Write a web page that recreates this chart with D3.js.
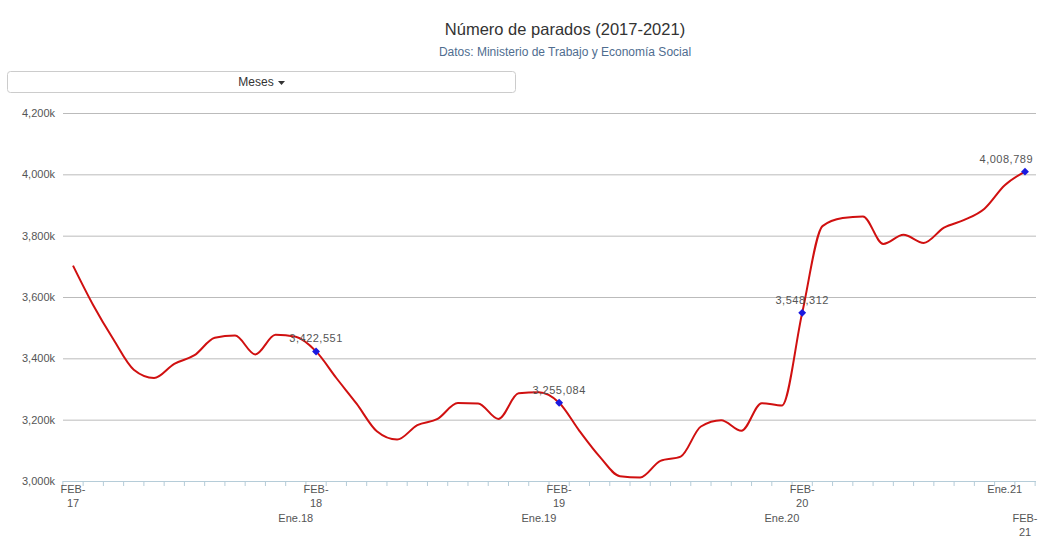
<!DOCTYPE html>
<html><head><meta charset="utf-8">
<script src="https://cdn.jsdelivr.net/npm/d3@7"></script>
<style>
body{margin:0;font-family:"Liberation Sans",Arial,sans-serif;background:#fff}
text{font-family:"Liberation Sans",Arial,sans-serif}
</style></head><body>
<script>
w = 1045;
h = 555;

// meses: mar-17 .. feb-21
months = ['Mar.17','Abr.17','May.17','Jun.17','Jul.17','Ago.17','Sep.17','Oct.17','Nov.17','Dic.17',
  'Ene.18','Feb.18','Mar.18','Abr.18','May.18','Jun.18','Jul.18','Ago.18','Sep.18','Oct.18','Nov.18','Dic.18',
  'Ene.19','Feb.19','Mar.19','Abr.19','May.19','Jun.19','Jul.19','Ago.19','Sep.19','Oct.19','Nov.19','Dic.19',
  'Ene.20','Feb.20','Mar.20','Abr.20','May.20','Jun.20','Jul.20','Ago.20','Sep.20','Oct.20','Nov.20','Dic.20',
  'Ene.21','Feb.21'];
parados = [3702317,3573036,3461128,3362811,3335924,3382324,3410182,3467026,3474281,3412781,
  3476528,3470248,3422551,3335868,3252130,3162162,3135021,3182068,3202509,3254064,3252867,3202297,
  3285761,3289040,3255084,3163566,3079491,3015686,3011433,3065804,3079711,3177659,3198184,3163605,
  3253853,3246047,3548312,3831203,3857776,3862883,3773034,3802814,3776485,3826043,3851312,3888137,
  3964353,4008789];
markedIdx = [12, 24, 36, 47];
yTicks = [3000000,3200000,3400000,3600000,3800000,4000000,4200000];
// etiquetas del eje x: [indice, linea, texto]
xLabels = [[0,1,'FEB-'],[0,2,'17'],[12,1,'FEB-'],[12,2,'18'],[24,1,'FEB-'],[24,2,'19'],
  [36,1,'FEB-'],[36,2,'20'],[46,1,'Ene.21'],[11,3,'Ene.18'],[23,3,'Ene.19'],[35,3,'Ene.20'],
  [47,3,'FEB-'],[47,4,'21']];

svg = d3.select('body').append('svg').attr('width', w).attr('height', h);

svg.append('text').attr('x', 565).attr('y', 35).attr('text-anchor', 'middle')
  .attr('font-size', 16.5).attr('fill', '#333').text('Número de parados (2017-2021)');
svg.append('text').attr('x', 565).attr('y', 56).attr('text-anchor', 'middle')
  .attr('font-size', 12).attr('fill', '#4f6d8f').text('Datos: Ministerio de Trabajo y Economía Social');

svg.append('rect').attr('x', 7.5).attr('y', 71.5).attr('width', 508).attr('height', 21).attr('rx', 3)
  .attr('fill', '#fff').attr('stroke', '#ccc');
svg.append('text').attr('x', 256).attr('y', 86).attr('text-anchor', 'middle')
  .attr('font-size', 12).attr('fill', '#333').text('Meses');
svg.append('path').attr('d', 'M278,81 l7,0 l-3.5,4 z').attr('fill', '#333');

x = d3.scaleLinear().domain([0, months.length - 1]).range([73, 1025]);
y = d3.scaleLinear().domain([3000000, 4200000]).range([481, 113]);

svg.append('g').selectAll('line').data(yTicks.slice(1)).enter().append('line')
  .attr('x1', 63).attr('x2', 1036).attr('y1', d => y(d) + 0.5).attr('y2', d => y(d) + 0.5)
  .attr('stroke', '#bbb');
svg.append('g').selectAll('text').data(yTicks).enter().append('text')
  .attr('x', 55).attr('y', d => y(d) + 4).attr('text-anchor', 'end')
  .attr('font-size', 11).attr('fill', '#555').text(d => d3.format(',')(d / 1000) + 'k');

// eje x
svg.append('line').attr('x1', 63).attr('x2', 1036).attr('y1', 481.5).attr('y2', 481.5).attr('stroke', '#b5ccd8');
svg.append('g').selectAll('line').data(d3.range(-0.5, months.length + 0.5, 1)).enter().append('line')
  .attr('x1', d => x(d)).attr('x2', d => x(d)).attr('y1', 481).attr('y2', 486).attr('stroke', '#b5ccd8');
svg.append('g').selectAll('text').data(xLabels).enter().append('text')
  .attr('x', d => x(d[0])).attr('y', d => 481 + d[1] * 14.5 - 3).attr('text-anchor', 'middle')
  .attr('font-size', 11).attr('fill', '#555').text(d => d[2]);

line = d3.line().x((d, i) => x(i)).y(d => y(d)).curve(d3.curveMonotoneX);
svg.append('path').datum(parados).attr('d', line).attr('fill', 'none')
  .attr('stroke', '#d01010').attr('stroke-width', 2);

svg.append('g').selectAll('path').data(markedIdx).enter().append('path')
  .attr('d', d3.symbol(d3.symbolDiamond2, 40))
  .attr('transform', d => 'translate(' + x(d) + ',' + y(parados[d]) + ')')
  .attr('fill', '#1a1ae0');
svg.append('g').selectAll('text').data(markedIdx).enter().append('text')
  .attr('x', d => d === 47 ? x(d) + 8 : x(d))
  .attr('y', d => y(parados[d]) - 9)
  .attr('text-anchor', d => d === 47 ? 'end' : 'middle')
  .attr('font-size', 11).attr('fill', '#555').attr('letter-spacing', 0.5)
  .text(d => d3.format(',')(parados[d]));
</script>
</body></html>
